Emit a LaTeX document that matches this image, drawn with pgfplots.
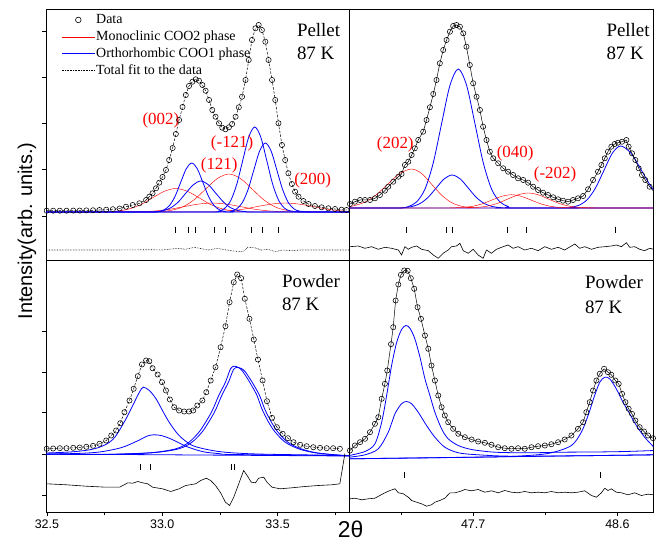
\documentclass[border=0pt]{standalone}
\usepackage{fontspec}
\setmainfont{Liberation Serif}
\setsansfont{Liberation Sans}
\usepackage{pgfplots}
\pgfplotsset{compat=1.18}
\definecolor{myred}{RGB}{255,0,0}
\definecolor{myblue}{RGB}{0,0,255}
\tikzset{
 plab/.style={font=\fontsize{19}{23}\selectfont, anchor=base west},
 rlab/.style={font=\fontsize{17}{20}\selectfont, text=myred},
}
\pgfplotsset{
 panel/.style={scale only axis, anchor=south west, axis line style={line width=0.8pt},
   tick style={black, line width=0.6pt}, tick align=outside, major tick length=3.5bp,
   minor tick length=2.5bp, xtick pos=left, ytick pos=left, yticklabels={},
   ticklabel style={font=\sffamily\fontsize{12.5}{14}\selectfont},
   /pgf/number format/assume math mode=true, clip=true},
 datapts/.style={only marks, mark=o, mark size=2.6bp, mark options={line width=0.55pt, black}},
 fitd/.style={black, line width=0.5pt, dash pattern=on 2.5pt off 1.5pt},
 fits/.style={black, line width=0.5pt},
 comp/.style={myblue, line width=0.8pt, smooth, tension=0.5},
 compr/.style={myred, line width=0.45pt, smooth, tension=0.5},
 bragg/.style={only marks, mark=|, mark options={black, line width=0.6pt}},
 diff/.style={black, line width=0.6pt},
}
\begin{document}
\begin{tikzpicture}
% ---------------- Top-left: Pellet, 33 deg ----------------
\begin{axis}[panel, at={(0bp,252.5bp)}, width=303.3bp, height=251bp,
  xmin=32.496, xmax=33.811, ymin=0, ymax=251, xtick=\empty,
  ytick={44,90.3,136.7,183,229},
  legend image code/.code={\draw[mark repeat=2, mark phase=2, #1] plot coordinates {(0bp,0bp) (16.5bp,0bp) (33bp,0bp)};},
  legend style={draw=none, fill=none, at={(axis description cs:0.004,0.997)}, anchor=north west,
    xshift=14bp, yshift=-2bp, font=\fontsize{14}{17}\selectfont, inner sep=0pt, row sep=1pt,
    nodes={inner sep=1pt, text height=11pt, text depth=3pt}},
  legend cell align=left,
  legend entries={Data, Monoclinic COO2 phase, Orthorhombic COO1 phase, Total fit to the data}]
\addlegendimage{only marks, mark=o, mark size=2.8bp, mark options={line width=0.6pt, black}}
\addlegendimage{color=myred, line width=0.5pt}
\addlegendimage{color=myblue, line width=0.8pt}
\addlegendimage{color=black, line width=0.6pt, densely dotted}
% red components
\addplot[compr] table {
32.496 48
32.70 48
32.759 48.3
32.809 49
32.859 51.2
32.909 55.6
32.959 62.3
33.009 68.7
33.059 71.5
33.109 68.7
33.159 62.3
33.209 55.6
33.259 51.2
33.309 49
33.359 48.3
33.42 48
33.811 48
};
\addplot[compr] table {
32.496 48
32.93 48
32.989 48.4
33.039 49.7
33.089 53.1
33.139 60.4
33.189 71.1
33.239 81.5
33.289 86
33.339 81.5
33.389 71.1
33.439 60.4
33.489 53.1
33.539 49.7
33.589 48.4
33.65 48
33.811 48
};
\addplot[compr] table {
32.496 48
32.857 48.1
32.917 48.4
32.977 49.2
33.037 50.9
33.097 53.5
33.157 55.9
33.217 57
33.277 55.9
33.337 53.5
33.397 50.9
33.457 49.2
33.517 48.4
33.577 48.1
33.811 48
};
\addplot[compr] table {
32.496 48
33.173 48.1
33.233 48.4
33.293 49.2
33.353 50.9
33.413 53.5
33.473 55.9
33.533 57
33.593 55.9
33.653 53.5
33.713 50.9
33.773 49.2
33.811 48.6
};
% blue components
\addplot[comp] table {
32.496 48
32.936 48
32.984 48.5
33.008 50.2
33.032 54.6
33.056 63.9
33.080 77.7
33.104 91.2
33.128 97
33.152 91.2
33.176 77.7
33.200 63.9
33.224 54.6
33.248 50.2
33.272 48.5
33.320 48
33.811 48
};
\addplot[comp] table {
32.496 48
32.92 48
32.972 48.3
33.005 49.4
33.037 52.2
33.070 58.1
33.102 66.8
33.135 75.3
33.167 79
33.200 75.3
33.232 66.8
33.265 58.1
33.297 52.2
33.330 49.4
33.362 48.3
33.41 48
33.811 48
};
\addplot[comp] table {
32.496 48
33.19 48
33.245 48.9
33.271 51.7
33.297 59.5
33.323 75.6
33.349 99.6
33.375 123
33.401 133
33.427 123
33.453 99.6
33.479 75.6
33.505 59.5
33.531 51.7
33.557 48.9
33.61 48
33.811 48
};
\addplot[comp] table {
32.496 48
33.25 48
33.297 48.8
33.322 51
33.347 57.3
33.372 70.4
33.397 89.9
33.422 108.9
33.447 117
33.472 108.9
33.497 89.9
33.522 70.4
33.547 57.3
33.572 51
33.597 48.8
33.65 48
33.811 48
};
% data and fit
\pgfplotstableread{
32.499 49.3
32.527 49.3
32.556 49.3
32.585 49.3
32.614 49.4
32.642 49.4
32.671 49.6
32.700 49.7
32.728 50.0
32.757 50.3
32.786 50.8
32.815 51.5
32.843 53.3
32.872 55.0
32.901 56.7
32.930 60.0
32.944 63.3
32.958 66.7
32.973 71.7
32.987 77.3
33.001 83
33.016 90
33.030 100
33.045 112
33.059 126
33.073 140
33.088 153
33.102 165
33.116 174
33.131 178.3
33.145 180.7
33.159 179.3
33.174 175
33.188 169.3
33.203 160
33.217 150
33.231 143.3
33.246 136.7
33.260 132.3
33.274 130.7
33.289 132.7
33.303 136
33.318 143.3
33.332 152.7
33.346 163.3
33.361 180
33.375 200
33.389 220
33.404 231.7
33.418 235
33.432 230
33.447 218.3
33.461 200
33.476 180
33.490 160
33.504 136.7
33.519 115
33.533 100
33.547 86.7
33.562 76
33.576 68.3
33.591 63.3
33.612 59
33.634 56
33.662 54
33.691 52.7
33.720 51.7
33.749 51
33.777 50.3
33.799 50
}\tldata
\addplot[fitd] table {\tldata};
\addplot[datapts] table {\tldata};
\addplot[bragg, mark size=3.3bp] coordinates {(33.056,30) (33.113,30) (33.142,30) (33.224,30) (33.272,30) (33.385,30) (33.432,30) (33.501,30)};
\addplot[black, line width=0.6pt, densely dotted] table {
32.496 10
32.80 10
32.95 10.3
33.00 10
33.04 11
33.07 11.7
33.10 10.7
33.14 12.7
33.17 11.3
33.20 10
33.24 11.7
33.27 10.3
33.31 9
33.35 8.3
33.37 12.7
33.40 12.3
33.43 10
33.46 10.7
33.49 8.3
33.52 10
33.56 9.3
33.60 10
33.811 10
};
\node[plab] at (axis cs:33.569,223.3) {Pellet};
\node[plab] at (axis cs:33.569,200) {87 K};
\node[rlab] at (axis cs:32.994,140) {(002)};
\node[rlab] at (axis cs:33.303,116.7) {(-121)};
\node[rlab] at (axis cs:33.247,95) {(121)};
\node[rlab] at (axis cs:33.652,79.3) {(200)};
\end{axis}
% ---------------- Top-right: Pellet, 47.7 deg ----------------
\begin{axis}[panel, at={(303.3bp,252.5bp)}, width=304bp, height=251bp,
  xmin=46.927, xmax=48.824, ymin=0, ymax=251, xtick=\empty, ytick=\empty]
\addplot[comp] table {
46.927 52
47.24 52
47.295 53.5
47.347 58.1
47.399 70.8
47.451 97.2
47.503 136.4
47.555 174.6
47.607 191
47.659 174.6
47.711 136.4
47.763 97.2
47.815 70.8
47.867 58.1
47.919 53.5
47.97 52
48.824 52
};
\addplot[comp] table {
46.927 52
47.22 52
47.269 52.4
47.319 53.5
47.369 56.5
47.419 62.7
47.469 72
47.519 81.1
47.569 85
47.619 81.1
47.669 72
47.719 62.7
47.769 56.5
47.819 53.5
47.869 52.4
47.92 52
48.824 52
};
\addplot[comp] table {
46.927 52
48.26 52
48.308 52.7
48.360 54.7
48.412 60.4
48.464 72.2
48.516 89.6
48.568 106.7
48.620 114
48.685 106.7
48.750 89.6
48.815 72.2
48.88 60.4
};
\addplot[compr] table {
46.927 53.4
46.941 53.7
47.016 57.3
47.091 64.7
47.166 75.7
47.241 86.4
47.316 91
47.379 86.4
47.441 75.7
47.504 64.7
47.566 57.3
47.629 53.7
47.691 52.4
47.75 52
48.824 52
};
\addplot[compr] table {
46.927 52
47.52 52
47.579 52.2
47.639 52.6
47.699 53.8
47.759 56.3
47.819 60.1
47.879 63.7
47.939 65.3
47.999 63.7
48.059 60.1
48.119 56.3
48.179 53.8
48.239 52.6
48.299 52.2
48.36 52
48.824 52
};
\addplot[compr] table {
46.927 52
47.61 52
47.668 52.2
47.731 52.7
47.793 54
47.856 56.9
47.918 61.1
47.981 65.2
48.043 67
48.106 65.2
48.168 61.1
48.231 56.9
48.293 54
48.356 52.7
48.418 52.2
48.48 52
48.824 52
};
\pgfplotstableread{
46.931 56
46.962 58.3
46.994 60
47.025 60
47.056 60
47.087 61.7
47.118 65
47.149 69.3
47.170 73.3
47.201 78.3
47.233 83.3
47.253 86
47.274 95
47.295 98.3
47.316 105
47.336 111.7
47.357 120
47.388 128.3
47.409 140
47.430 152.7
47.451 166
47.471 180
47.492 196.7
47.513 210
47.534 220
47.555 228.3
47.575 234
47.596 235
47.617 233.3
47.638 226.7
47.658 213.3
47.679 195
47.700 176.7
47.721 163.3
47.742 150
47.762 133.3
47.783 120
47.804 108.3
47.825 101.7
47.856 96.7
47.887 91.7
47.918 88.3
47.949 85
47.980 81.7
48.012 80
48.043 77.3
48.074 73.3
48.105 70
48.136 67.3
48.167 65
48.199 62.7
48.230 60.7
48.261 59.3
48.292 58.3
48.323 60
48.354 61.7
48.386 64
48.417 70.7
48.448 80
48.479 88.3
48.500 95
48.521 101.7
48.541 108.3
48.562 113.3
48.583 116
48.604 117.3
48.629 118.3
48.656 120
48.670 113.3
48.691 106.7
48.712 100
48.733 91.7
48.753 85
48.774 80
48.801 73.3
48.828 68.3
}\trdata
\addplot[fits] table {\trdata};
\addplot[datapts] table {\trdata};
\addplot[bragg, mark size=3.3bp] coordinates {(47.280,30) (47.534,30) (47.569,30) (47.912,30) (48.032,30) (48.587,30)};
\addplot[diff] table {
46.931 13.3
46.983 14
47.025 11.7
47.066 13.3
47.108 10.7
47.149 12.7
47.191 11.7
47.233 10
47.253 5
47.274 13.3
47.295 10.7
47.316 12.7
47.347 14
47.378 10.7
47.420 9.3
47.451 5
47.482 1.7
47.513 6.7
47.544 10
47.565 13.3
47.596 14
47.617 16.7
47.638 9.3
47.669 6.7
47.700 10.7
47.731 5
47.762 1.7
47.783 10
47.814 6.7
47.845 10.7
47.887 13.3
47.918 15
47.949 11.7
47.980 13.3
48.022 10
48.064 11.7
48.105 9.3
48.147 13.3
48.188 10.7
48.230 12.7
48.271 10
48.313 14
48.334 16
48.365 11.7
48.396 13.3
48.438 10.7
48.479 12.7
48.521 13.3
48.562 14
48.593 15
48.625 13.3
48.656 17.3
48.677 12.7
48.708 13.3
48.739 10.7
48.770 9.3
48.801 11.7
48.828 10.7
};
\node[plab] at (axis cs:48.510,223.3) {Pellet};
\node[plab] at (axis cs:48.510,200) {87 K};
\node[rlab] at (axis cs:47.214,116) {(202)};
\node[rlab] at (axis cs:47.962,107) {(040)};
\node[rlab] at (axis cs:48.211,86) {(-202)};
\end{axis}
% ---------------- Bottom-left: Powder, 33 deg ----------------
\begin{axis}[panel, at={(0bp,0bp)}, width=303.3bp, height=252.5bp,
  xmin=32.496, xmax=33.811, ymin=0, ymax=252.5,
  xtick={32.5,33,33.5}, xticklabels={32.5,33.0,33.5},
  minor xtick={32.75,33.25,33.75},
  ytick={17.7,58,99.7,140.3,181}]
\addplot[myblue, line width=0.8pt] coordinates {(32.496,58.5) (33.811,56.5)};
\addplot[comp] table {
32.496 59.5
32.600 60.5
32.680 62.5
32.728 65.3
32.770 70
32.800 77
32.843 93.7
32.872 107
32.901 120.3
32.918 125.3
32.944 122
32.973 113.7
33.001 102
33.030 90.3
33.073 77
33.131 67
33.217 62
33.303 59.7
33.447 58.3
33.811 57
};
\addplot[comp] table {
32.496 58.3
32.650 59.2
32.728 60.5
32.800 63.5
32.843 66.5
32.901 72.5
32.935 76.5
32.963 77.7
32.995 77
33.030 74.3
33.065 70.5
33.102 66.3
33.145 62.8
33.188 60.3
33.250 58.8
33.303 58
33.811 56.8
};
\addplot[comp] table {
32.496 58.3
32.728 58
32.944 59.7
33.059 63.7
33.116 70.3
33.159 80.3
33.188 90.3
33.217 102
33.245 117
33.274 130.3
33.296 143.7
33.312 146.3
33.330 145
33.346 142
33.375 132
33.389 126.3
33.411 117
33.432 103.7
33.461 90.3
33.490 80.3
33.533 70.3
33.591 63.7
33.662 59.7
33.777 57
33.811 56.8
};
\addplot[comp] table {
32.496 58.3
32.741 58
32.957 59.7
33.072 63.7
33.129 70.3
33.172 80.3
33.201 90.3
33.230 102
33.258 117
33.287 130.3
33.309 143
33.325 145
33.343 144
33.359 141
33.388 131
33.402 125.5
33.424 116
33.445 103
33.474 90
33.503 80
33.546 70
33.604 63.5
33.675 59.5
33.790 57
33.811 56.8
};
\pgfplotstableread{
32.499 63.7
32.527 64
32.556 64.3
32.585 64.3
32.614 64.7
32.642 65
32.671 65.7
32.700 66.7
32.728 68.7
32.757 72
32.779 77
32.800 82
32.818 89.3
32.836 100.3
32.858 112
32.876 123.7
32.894 136.3
32.912 148
32.930 152
32.944 151.3
32.958 144.3
32.980 138
32.999 130.3
33.016 122
33.033 113
33.052 105.3
33.073 102
33.095 101
33.116 101
33.134 102
33.152 107
33.174 112
33.191 120.3
33.210 132
33.231 145.3
33.253 165.3
33.274 186.3
33.292 210.3
33.310 230.3
33.325 238
33.342 234.3
33.358 213.7
33.378 193.7
33.397 173
33.415 153
33.435 132
33.454 111.3
33.476 94.7
33.497 85.3
33.522 78.7
33.545 74.3
33.569 70.3
33.598 67.7
33.626 66.3
33.655 65.3
33.684 64.7
33.713 64.3
33.741 64.3
33.770 63.7
}\bldata
\addplot[fitd] table {\bldata};
\addplot[datapts] table {\bldata};
\addplot[bragg, mark size=3.3bp] coordinates {(32.905,45.3) (32.947,45.3) (33.299,45.3) (33.313,45.3)};
\addplot[diff] table {
32.499 28.7
32.585 27.7
32.671 26.3
32.757 25.3
32.815 25.3
32.851 29.7
32.872 29.3
32.894 31
32.915 29.7
32.937 28.7
32.958 25.3
33.001 23.7
33.037 21
33.073 23.7
33.102 27
33.145 28.7
33.167 32
33.191 34.3
33.210 32
33.231 27
33.253 19.7
33.274 10.3
33.292 7
33.310 15.3
33.329 27
33.346 37.7
33.353 42
33.368 37
33.386 30.3
33.404 29.7
33.418 34.3
33.440 35.3
33.454 30.3
33.476 25.3
33.511 23.7
33.562 24.7
33.619 26
33.677 27
33.734 27.7
33.770 28.7
33.792 59
};
\node[plab] at (axis cs:33.504,225.3) {Powder};
\node[plab] at (axis cs:33.504,202) {87 K};
\end{axis}
% ---------------- Bottom-right: Powder, 47.7 deg ----------------
\begin{axis}[panel, at={(303.3bp,0bp)}, width=304bp, height=252.5bp,
  xmin=46.927, xmax=48.824, ymin=0, ymax=252.5,
  xtick={47.7,48.6}, xticklabels={47.7,48.6}, minor xtick={47.25,48.15},
  ytick=\empty]
\addplot[myblue, line width=0.8pt] coordinates {(46.927,53.7) (48.828,57.7)};
\addplot[comp] table {
46.927 57
47.025 61
47.087 68.7
47.129 90.3
47.160 117
47.191 147
47.222 169.7
47.253 183
47.280 187
47.305 184.3
47.336 173.7
47.368 155.3
47.399 133.7
47.430 117
47.461 100.3
47.503 83.7
47.544 73.7
47.607 67
47.690 63
47.835 60.3
48.043 59.7
48.251 60.3
48.458 60.5
48.650 61
48.828 62
};
\addplot[comp] table {
46.927 55.3
47.025 57.7
47.108 63.7
47.170 80.3
47.212 98.7
47.253 108.7
47.284 111
47.316 108.7
47.357 100.3
47.409 87
47.461 75.3
47.523 65.3
47.607 59.7
47.731 57.7
47.939 56.3
48.4 56.8
48.828 57.7
};
\addplot[comp] table {
46.927 53.7
47.8 55.5
48.043 57
48.188 59.7
48.313 67
48.375 80.3
48.417 97
48.458 117
48.490 130.3
48.521 135.3
48.552 133.7
48.593 123.7
48.635 110.3
48.677 98.7
48.718 87
48.770 75.3
48.828 65.3
};
\pgfplotstableread{
46.931 62
46.962 67
46.994 70.3
47.025 73.7
47.056 80.3
47.087 88.7
47.108 95.3
47.129 113.7
47.149 128.7
47.164 142
47.187 168.3
47.201 185.3
47.216 212
47.233 228
47.249 237.7
47.270 242
47.291 241.7
47.311 234.3
47.332 223.7
47.353 205.3
47.374 193.7
47.399 177
47.420 163.7
47.440 147
47.461 132
47.482 117
47.503 105.3
47.523 97
47.544 90.3
47.575 83.7
47.607 78.7
47.648 75.3
47.690 73
47.731 71
47.773 69.7
47.814 67.7
47.856 65.3
47.897 64.3
47.939 63.7
47.980 64.3
48.022 63.7
48.064 65.3
48.105 66.3
48.147 67
48.188 68.3
48.230 70.3
48.271 73
48.313 77
48.354 83.7
48.386 90.3
48.406 100.3
48.427 110.3
48.448 122
48.469 132
48.490 138.7
48.517 143.7
48.541 140.3
48.562 137.7
48.587 132
48.608 128.7
48.629 118.7
48.650 110.3
48.670 103.7
48.691 98.7
48.712 92
48.739 85.3
48.766 81
48.791 77
48.822 74.3
}\brdata
\addplot[fits] table {\brdata};
\addplot[datapts] table {\brdata};
\addplot[bragg, mark size=3bp] coordinates {(47.268,37) (47.272,37) (48.496,37)};
\addplot[diff] table {
46.931 13.7
46.962 14.3
47.004 12.7
47.046 13.7
47.087 14.3
47.118 17
47.149 19.7
47.181 22
47.212 23.7
47.233 19.7
47.264 18.7
47.295 15.3
47.316 12
47.347 10.3
47.378 8.7
47.409 6.3
47.440 7.7
47.461 10.3
47.492 12
47.523 14.3
47.555 19.7
47.586 19.7
47.617 21
47.648 23
47.690 21.7
47.731 23
47.773 20.3
47.814 21.7
47.856 19.7
47.897 22
47.939 20.3
47.980 19.7
48.022 21
48.064 19.7
48.105 20.3
48.147 19.7
48.188 21
48.230 19.7
48.271 20.3
48.313 19.7
48.354 20.3
48.396 21.7
48.438 17
48.469 15.3
48.500 19.7
48.521 24.3
48.541 22
48.562 23.7
48.593 20.3
48.625 19.7
48.666 17.7
48.708 19.7
48.749 17
48.791 18.3
48.828 17.7
};
\node[plab] at (axis cs:48.376,223.7) {Powder};
\node[plab] at (axis cs:48.376,198.7) {87 K};
\end{axis}
\node[rotate=90, font=\sffamily\fontsize{20}{24}\selectfont] at (-19bp,281.5bp) {Intensity(arb. units.)};
\node[font=\sffamily\fontsize{23}{25}\selectfont, inner sep=0pt, anchor=base] at (304.5bp,-25bp) {2θ};
\path (-46bp,-29.5bp) rectangle (612bp,512.5bp);
\end{tikzpicture}
\end{document}
